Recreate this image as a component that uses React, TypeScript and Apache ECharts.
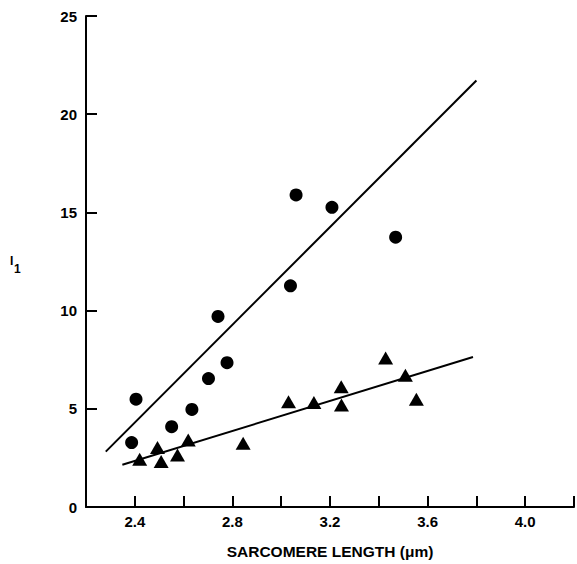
import React, { useEffect, useRef } from "react";
import * as echarts from "echarts";

const circlePoints: [number, number][] = [
  [2.387, 3.28], [2.405, 5.49], [2.551, 4.09], [2.634, 4.97], [2.702, 6.54],
  [2.741, 9.7], [2.778, 7.35], [3.038, 11.26], [3.061, 15.89], [3.208, 15.26],
  [3.469, 13.74],
];
const trianglePoints: [number, number][] = [
  [2.42, 2.43], [2.493, 3.03], [2.508, 2.32], [2.575, 2.65], [2.619, 3.41],
  [2.844, 3.25], [3.03, 5.36], [3.134, 5.32], [3.246, 6.12], [3.247, 5.19],
  [3.428, 7.59], [3.509, 6.71], [3.554, 5.48],
];
const circleFit: [number, number][] = [[2.281, 2.82], [3.8, 21.72]];
const triangleFit: [number, number][] = [[2.349, 2.15], [3.786, 7.64]];

const xMin = 2.2;
const xMax = 4.2;
const xStep = 0.2;
const yMin = 0;
const yMax = 25;
const yStep = 5;

const FONT = "'Liberation Sans', Arial, sans-serif";

export default function App() {
  const ref = useRef<HTMLDivElement>(null);
  useEffect(() => {
    if (!ref.current) return;
    const chart = echarts.init(ref.current, null, { renderer: "svg" });
    const axisLine = { show: true, lineStyle: { color: "#000", width: 2 } };
    chart.setOption({
      animation: false,
      backgroundColor: "#fff",
      grid: { left: 86, width: 497, top: 16, height: 493, containLabel: false },
      xAxis: {
        type: "value",
        min: xMin,
        max: xMax,
        interval: xStep,
        axisLine,
        axisTick: { show: true, inside: true, length: 11, lineStyle: { color: "#000", width: 2 } },
        axisLabel: {
          color: "#000",
          fontFamily: FONT,
          fontWeight: "bold",
          fontSize: 15,
          margin: 7,
          formatter: (v: number) => (Math.round(v * 10) % 4 === 0 ? v.toFixed(1) : ""),
        },
        splitLine: { show: false },
        name: "SARCOMERE LENGTH (\u03bcm)",
        nameLocation: "middle",
        nameGap: 36,
        nameTextStyle: { color: "#000", fontFamily: FONT, fontWeight: "bold", fontSize: 15.5 },
      },
      yAxis: {
        type: "value",
        min: yMin,
        max: yMax,
        interval: yStep,
        axisLine,
        axisTick: { show: true, inside: true, length: 11, lineStyle: { color: "#000", width: 2 } },
        axisLabel: { color: "#000", fontFamily: FONT, fontWeight: "bold", fontSize: 15, margin: 9 },
        splitLine: { show: false },
      },
      graphic: [
        { type: "text", left: 10, top: 255, style: { text: "I", fill: "#000", font: `bold 12px ${FONT}` } },
        { type: "text", left: 14, top: 263, style: { text: "1", fill: "#000", font: `bold 12px ${FONT}` } },
      ],
      series: [
        {
          type: "line",
          data: circleFit,
          showSymbol: false,
          lineStyle: { color: "#000", width: 2 },
          silent: true,
        },
        {
          type: "line",
          data: triangleFit,
          showSymbol: false,
          lineStyle: { color: "#000", width: 2 },
          silent: true,
        },
        {
          type: "scatter",
          data: circlePoints,
          symbol: "circle",
          symbolSize: 13,
          itemStyle: { color: "#000", opacity: 1 },
        },
        {
          type: "scatter",
          data: trianglePoints,
          symbol: "triangle",
          symbolSize: [15, 13],
          itemStyle: { color: "#000", opacity: 1 },
        },
      ],
    });
    return () => chart.dispose();
  }, []);
  return (
    <div
      ref={ref}
      style={{ position: "fixed", left: 0, top: 0, width: 577, height: 564, background: "#fff" }}
    />
  );
}
